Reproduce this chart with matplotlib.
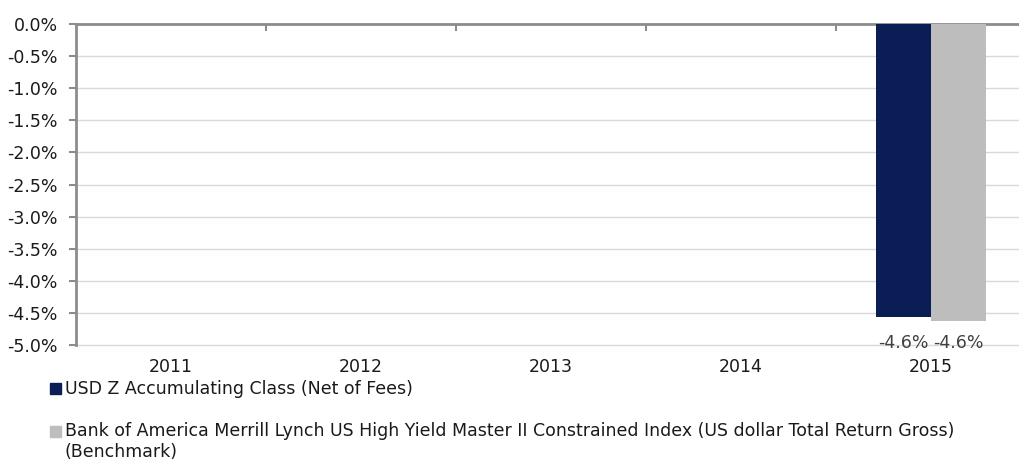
import matplotlib.pyplot as plt
import numpy as np
from matplotlib.patches import Rectangle

plt.rcParams['font.family'] = ['DejaVu Sans']

years = ['2011', '2012', '2013', '2014', '2015']
fund = [np.nan, np.nan, np.nan, np.nan, -4.57]
bench = [np.nan, np.nan, np.nan, np.nan, -4.63]
fund_name = 'USD Z Accumulating Class (Net of Fees)'
bench_name = ('Bank of America Merrill Lynch US High Yield Master II Constrained Index (US dollar Total Return Gross)\n'
              '(Benchmark)')
yticks = np.arange(0, -5.01, -0.5)

navy = '#0A1E55'
grey = '#BDBDBD'
axis_col = '#8C8C8C'
txt = '#1A1A1A'
fs = 12.5

fig = plt.figure(figsize=(10.19, 4.62), dpi=100)
ax = fig.add_axes([76 / 1019, 1 - 345 / 462, 950 / 1019, 321 / 462])

x = np.arange(len(years))
w = 0.29
ax.bar(x - w / 2, fund, w, color=navy, zorder=3)
ax.bar(x + w / 2, bench, w, color=grey, zorder=3)

# data labels sit just under the bars, on the bottom gridline
for xi, v in zip(x, fund):
    if not np.isnan(v):
        ax.text(xi - w / 2, -4.97, '%.1f%%' % v, ha='center', va='center',
                fontsize=fs, color='#404040', zorder=4)
for xi, v in zip(x, bench):
    if not np.isnan(v):
        ax.text(xi + w / 2, -4.97, '%.1f%%' % v, ha='center', va='center',
                fontsize=fs, color='#404040', zorder=4)

ax.set_xlim(-0.5, len(years) - 0.5)
ax.set_ylim(-5.0, 0.0)
ax.set_yticks(yticks)
ax.set_yticklabels(['%.1f%%' % t for t in yticks], fontsize=fs, color=txt)
ax.yaxis.grid(True, color='#D9D9D9', linewidth=1.0, zorder=0)
for gl in ax.get_ygridlines():
    gl.set_clip_on(False)
ax.tick_params(axis='y', length=5, width=1.5, color=axis_col, pad=8)

# category boundary ticks on the top axis, year labels below the plot
ax.set_xticks(x + 0.5)
ax.tick_params(axis='x', top=True, bottom=False, direction='in',
               length=5, width=1.5, color=axis_col, labelbottom=False)
for xi, lab in zip(x, years):
    ax.text(xi, -5.34, lab, ha='center', va='center', fontsize=fs, color=txt,
            clip_on=False)

for s in ['right', 'bottom']:
    ax.spines[s].set_visible(False)
for s in ['top', 'left']:
    ax.spines[s].set_color(axis_col)
    ax.spines[s].set_linewidth(2)

# legend
fig.patches.append(Rectangle((50 / 1019, 1 - 394 / 462), 11 / 1019, 11 / 462,
                             transform=fig.transFigure, color=navy))
fig.text(65 / 1019, 1 - 389 / 462, fund_name, fontsize=fs, color=txt,
         va='center', ha='left')
fig.patches.append(Rectangle((50 / 1019, 1 - 437 / 462), 11 / 1019, 11 / 462,
                             transform=fig.transFigure, color=grey))
fig.text(65 / 1019, 1 - 441.5 / 462, bench_name, fontsize=fs, color=txt,
         va='center', ha='left', linespacing=1.15)

fig.savefig('out.png', dpi=100)
